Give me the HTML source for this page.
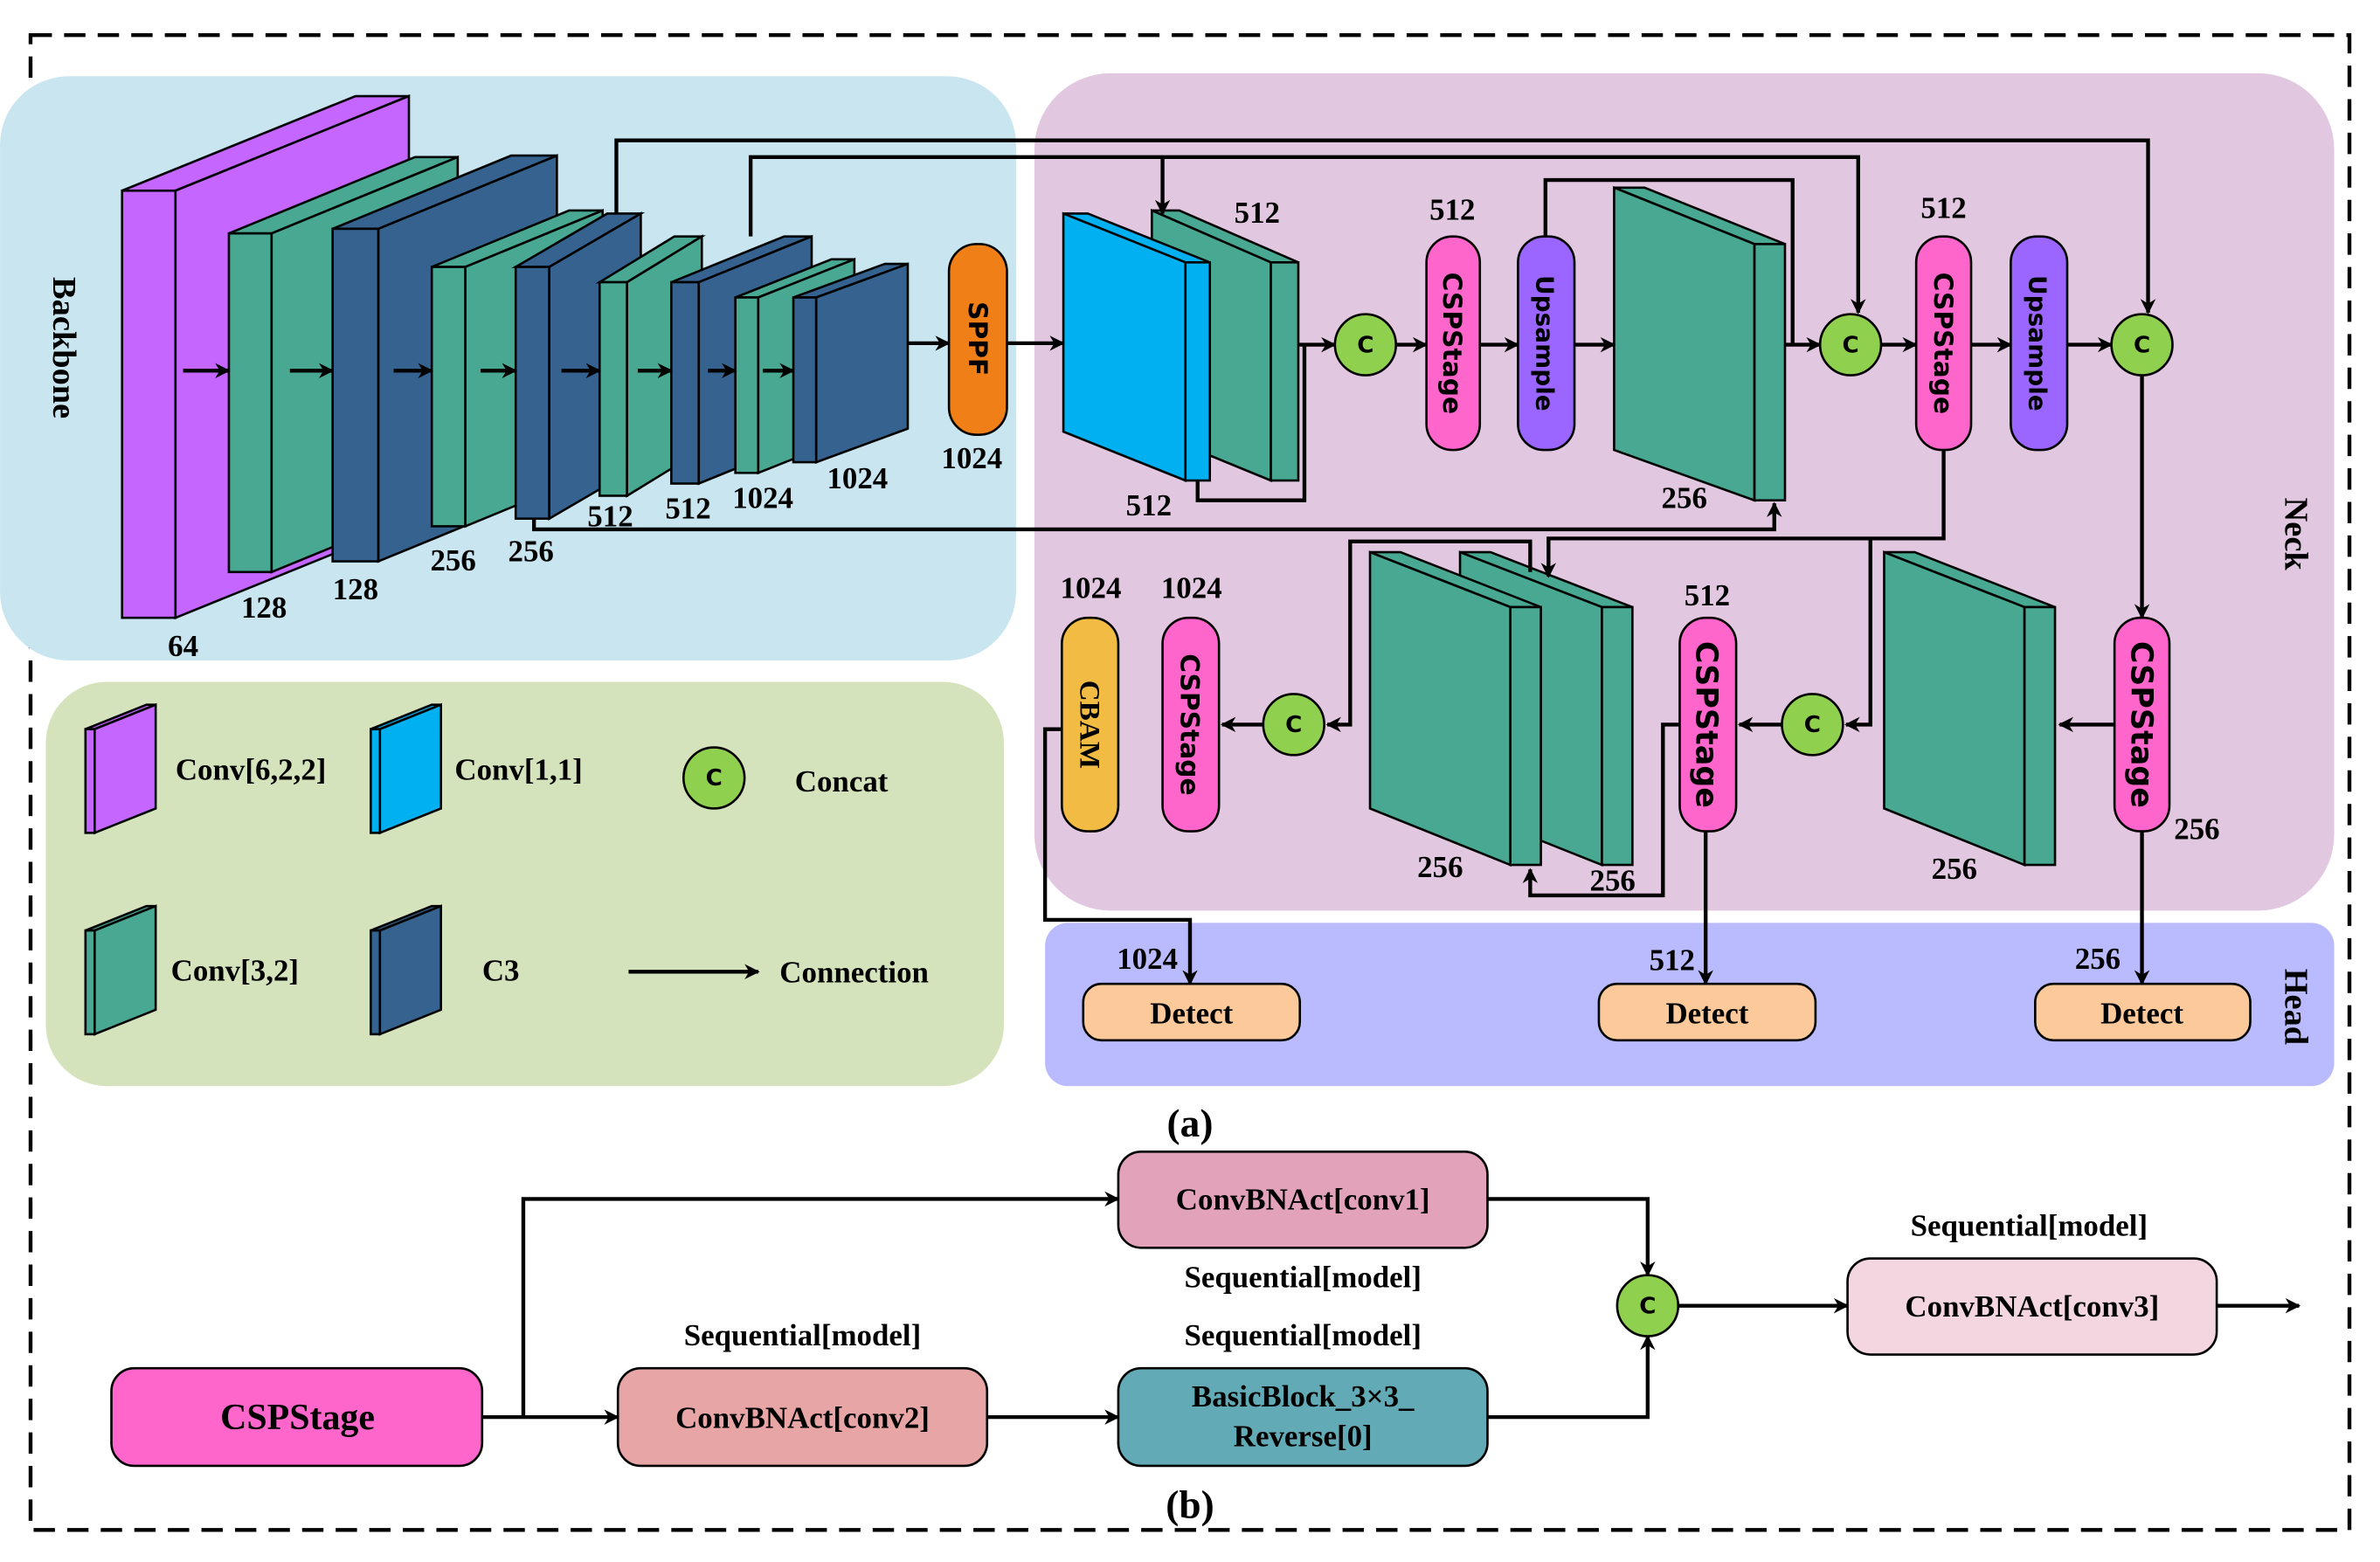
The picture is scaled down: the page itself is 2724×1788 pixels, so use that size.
<!DOCTYPE html>
<html><head><meta charset="utf-8"><style>html,body{margin:0;padding:0;background:#fff}svg{display:block}.s{font-family:"Liberation Serif",serif;font-weight:bold}</style></head>
<body>
<svg width="2724" height="1788" viewBox="0 0 1560 1024" xmlns="http://www.w3.org/2000/svg" class="s">
<defs>
<marker id="a" markerWidth="10" markerHeight="10" refX="9" refY="5" orient="auto" markerUnits="userSpaceOnUse"><path d="M0,0 L10,5 L0,10 L3,5 z" fill="#000"/></marker>
</defs>
<rect x="20" y="23" width="1520" height="980" fill="none" stroke="#000" stroke-width="2.5" stroke-dasharray="14,8"/>
<rect x="0" y="50" width="666" height="383" rx="45" fill="#c9e6f0"/>
<rect x="30" y="447" width="628" height="265" rx="40" fill="#d5e3bc"/>
<rect x="678" y="48" width="852" height="549" rx="50" fill="#e2c7e1"/>
<rect x="685" y="605" width="845" height="107" rx="15" fill="#babbff"/>

<g stroke="#000" stroke-width="1.5">
<g fill="#c466ff"><polygon points="80,125 115,125 268,63 233,63"/><rect x="80" y="125" width="35" height="280"/><polygon points="115,125 268,63 268,343 115,405"/></g>
<g fill="#48a892"><polygon points="150,153 178,153 300,103 272,103"/><rect x="150" y="153" width="28" height="222"/><polygon points="178,153 300,103 300,325 178,375"/></g>
<g fill="#35628f"><polygon points="218,150 248,150 365,102 335,102"/><rect x="218" y="150" width="30" height="218"/><polygon points="248,150 365,102 365,320 248,368"/></g>
<g fill="#48a892"><polygon points="283,175 305,175 395,138 373,138"/><rect x="283" y="175" width="22" height="170"/><polygon points="305,175 395,138 395,308 305,345"/></g>
<g fill="#35628f"><polygon points="338,175 360,175 420,140 398,140"/><rect x="338" y="175" width="22" height="165"/><polygon points="360,175 420,140 420,305 360,340"/></g>
<g fill="#48a892"><polygon points="393,185 411,185 460,155 442,155"/><rect x="393" y="185" width="18" height="140"/><polygon points="411,185 460,155 460,295 411,325"/></g>
<g fill="#35628f"><polygon points="440,185 458,185 532,155 514,155"/><rect x="440" y="185" width="18" height="132"/><polygon points="458,185 532,155 532,287 458,317"/></g>
<g fill="#48a892"><polygon points="482,195 497,195 560,170 545,170"/><rect x="482" y="195" width="15" height="115"/><polygon points="497,195 560,170 560,285 497,310"/></g>
<g fill="#35628f"><polygon points="520,195 535,195 595,173 580,173"/><rect x="520" y="195" width="15" height="108"/><polygon points="535,195 595,173 595,281 535,303"/></g>

<g fill="#48a892"><polygon points="755,138 773,138 851,172 833,172"/><polygon points="755,138 833,172 833,315 755,283"/><rect x="833" y="172" width="18" height="143"/></g>
<g fill="#00b0f0"><polygon points="697,140 713,140 793,172 777,172"/><polygon points="697,140 777,172 777,315 697,283"/><rect x="777" y="172" width="16" height="143"/></g>
<g fill="#48a892"><polygon points="1058,123 1078,123 1170,160 1150,160"/><polygon points="1058,123 1150,160 1150,328 1058,295"/><rect x="1150" y="160" width="20" height="168"/></g>
<g fill="#48a892"><polygon points="957,362 977,362 1070,398 1050,398"/><polygon points="957,362 1050,398 1050,567 957,530"/><rect x="1050" y="398" width="20" height="169"/></g>
<g fill="#48a892"><polygon points="898,362 918,362 1010,398 990,398"/><polygon points="898,362 990,398 990,567 898,530"/><rect x="990" y="398" width="20" height="169"/></g>
<g fill="#48a892"><polygon points="1235,362 1255,362 1347,398 1327,398"/><polygon points="1235,362 1327,398 1327,567 1235,530"/><rect x="1327" y="398" width="20" height="169"/></g>

<g fill="#c466ff"><polygon points="56,478 62,478 102,462 96,462"/><rect x="56" y="478" width="6" height="68"/><polygon points="62,478 102,462 102,530 62,546"/></g>
<g fill="#00b0f0"><polygon points="243,478 249,478 289,462 283,462"/><rect x="243" y="478" width="6" height="68"/><polygon points="249,478 289,462 289,530 249,546"/></g>
<g fill="#48a892"><polygon points="56,610 62,610 102,594 96,594"/><rect x="56" y="610" width="6" height="68"/><polygon points="62,610 102,594 102,662 62,678"/></g>
<g fill="#35628f"><polygon points="243,610 249,610 289,594 283,594"/><rect x="243" y="610" width="6" height="68"/><polygon points="249,610 289,594 289,662 249,678"/></g>
</g>

<g fill="none" stroke="#000" stroke-width="2.5">
<line x1="120" y1="243" x2="150" y2="243" marker-end="url(#a)"/>
<line x1="190" y1="243" x2="218" y2="243" marker-end="url(#a)"/>
<line x1="258" y1="243" x2="283" y2="243" marker-end="url(#a)"/>
<line x1="315" y1="243" x2="338" y2="243" marker-end="url(#a)"/>
<line x1="368" y1="243" x2="393" y2="243" marker-end="url(#a)"/>
<line x1="418" y1="243" x2="440" y2="243" marker-end="url(#a)"/>
<line x1="464" y1="243" x2="482" y2="243" marker-end="url(#a)"/>
<line x1="500" y1="243" x2="520" y2="243" marker-end="url(#a)"/>
<line x1="595" y1="225" x2="622" y2="225" marker-end="url(#a)"/>
<line x1="660" y1="225" x2="697" y2="225" marker-end="url(#a)"/>
<polyline points="404,140 404,92 1408,92 1408,205" marker-end="url(#a)"/>
<polyline points="492,155 492,103 1218,103 1218,205" marker-end="url(#a)"/>
<line x1="762" y1="103" x2="762" y2="140" marker-end="url(#a)"/>
<polyline points="1013,155 1013,118 1175,118 1175,226"/>
<line x1="1170" y1="226" x2="1193" y2="226" marker-end="url(#a)"/>
<line x1="851" y1="226" x2="875" y2="226" marker-end="url(#a)"/>
<polyline points="785,315 785,328 855,328 855,226"/>
<line x1="915" y1="226" x2="935" y2="226" marker-end="url(#a)"/>
<line x1="970" y1="226" x2="995" y2="226" marker-end="url(#a)"/>
<line x1="1032" y1="226" x2="1058" y2="226" marker-end="url(#a)"/>
<line x1="1233" y1="226" x2="1256" y2="226" marker-end="url(#a)"/>
<line x1="1292" y1="226" x2="1318" y2="226" marker-end="url(#a)"/>
<line x1="1355" y1="226" x2="1384" y2="226" marker-end="url(#a)"/>
<line x1="1404" y1="246" x2="1404" y2="405" marker-end="url(#a)"/>
<polyline points="350,340 350,347 1163,347 1163,330" marker-end="url(#a)"/>
<polyline points="1274,295 1274,353 1015,353 1015,378" marker-end="url(#a)"/>
<polyline points="1226,353 1226,475 1210,475" marker-end="url(#a)"/>
<polyline points="1003,375 1003,355 885,355 885,475 870,475" marker-end="url(#a)"/>
<line x1="1386" y1="475" x2="1350" y2="475" marker-end="url(#a)"/>
<line x1="1168" y1="475" x2="1140" y2="475" marker-end="url(#a)"/>
<polyline points="1101,475 1090,475 1090,587 1003,587 1003,570" marker-end="url(#a)"/>
<line x1="828" y1="475" x2="801" y2="475" marker-end="url(#a)"/>
<line x1="1118" y1="545" x2="1118" y2="645" marker-end="url(#a)"/>
<line x1="1404" y1="545" x2="1404" y2="645" marker-end="url(#a)"/>
<polyline points="696,478 685,478 685,603 780,603 780,645" marker-end="url(#a)"/>
<line x1="412" y1="637" x2="497" y2="637" marker-end="url(#a)"/>
<line x1="316" y1="929" x2="405" y2="929" marker-end="url(#a)"/>
<line x1="647" y1="929" x2="733" y2="929" marker-end="url(#a)"/>
<polyline points="343,929 343,786 733,786" marker-end="url(#a)"/>
<polyline points="975,786 1080,786 1080,836" marker-end="url(#a)"/>
<polyline points="975,929 1080,929 1080,876" marker-end="url(#a)"/>
<line x1="1100" y1="856" x2="1211" y2="856" marker-end="url(#a)"/>
<line x1="1453" y1="856" x2="1507" y2="856" marker-end="url(#a)"/>
</g>

<g stroke="#000" stroke-width="1.5">
<rect x="622" y="160" width="38" height="125" rx="18" fill="#f07f18"/>
<rect x="935" y="155" width="35" height="140" rx="17" fill="#ff66cc"/>
<rect x="995" y="155" width="37" height="140" rx="17" fill="#9b66ff"/>
<rect x="1256" y="155" width="36" height="140" rx="17" fill="#ff66cc"/>
<rect x="1318" y="155" width="37" height="140" rx="17" fill="#9b66ff"/>
<rect x="1386" y="405" width="36" height="140" rx="17" fill="#ff66cc"/>
<rect x="1101" y="405" width="37" height="140" rx="17" fill="#ff66cc"/>
<rect x="762" y="405" width="37" height="140" rx="17" fill="#ff66cc"/>
<rect x="696" y="405" width="37" height="140" rx="17" fill="#f2bb44"/>
<g fill="#8fd14f"><circle cx="895" cy="226" r="20"/><circle cx="1213" cy="226" r="20"/><circle cx="1404" cy="226" r="20"/><circle cx="1188" cy="475" r="20"/><circle cx="848" cy="475" r="20"/><circle cx="468" cy="510" r="20"/><circle cx="1080" cy="856" r="20"/></g>
<g fill="#fbc99a"><rect x="710" y="645" width="142" height="37" rx="12"/><rect x="1048" y="645" width="142" height="37" rx="12"/><rect x="1334" y="645" width="141" height="37" rx="12"/></g>
<rect x="73" y="897" width="243" height="64" rx="15" fill="#ff66cc"/>
<rect x="405" y="897" width="242" height="64" rx="15" fill="#e8a5a5"/>
<rect x="733" y="897" width="242" height="64" rx="15" fill="#62aab5"/>
<rect x="733" y="755" width="242" height="63" rx="15" fill="#e2a3ba"/>
<rect x="1211" y="825" width="242" height="63" rx="15" fill="#f3d6df"/>
</g>

<g style="font-family:'DejaVu Sans',sans-serif" font-size="17" text-anchor="middle" fill="#000">
<text transform="translate(641,222) rotate(90)" dy="6">SPPF</text>
<text transform="translate(952,225) rotate(90)" dy="6">CSPStage</text>
<text transform="translate(1013,225) rotate(90)" dy="6" font-size="16">Upsample</text>
<text transform="translate(1274,225) rotate(90)" dy="6">CSPStage</text>
<text transform="translate(1336,225) rotate(90)" dy="6" font-size="16">Upsample</text>
<text transform="translate(1404,475) rotate(90)" dy="7" font-size="20">CSPStage</text>
<text transform="translate(1119,475) rotate(90)" dy="7" font-size="20">CSPStage</text>
<text transform="translate(780,475) rotate(90)" dy="6">CSPStage</text>
<text transform="translate(714,475) rotate(90)" dy="6" style="font-family:'Liberation Serif',serif" font-size="19">CBAM</text>
<g font-size="15"><text x="895" y="231">C</text><text x="1213" y="231">C</text><text x="1404" y="231">C</text><text x="1188" y="480">C</text><text x="848" y="480">C</text><text x="468" y="515">C</text><text x="1080" y="861">C</text></g>
</g>
<g font-size="20" fill="#000" style="font-family:'Liberation Serif',serif">
<text transform="translate(42,228) rotate(90)" text-anchor="middle" dy="7" font-size="22">Backbone</text>
<text transform="translate(1505,350) rotate(90)" text-anchor="middle" dy="7" font-size="22">Neck</text>
<text transform="translate(1505,660) rotate(90)" text-anchor="middle" dy="7" font-size="22">Head</text>
<text x="120" y="430" text-anchor="middle">64</text>
<text x="173" y="405" text-anchor="middle">128</text>
<text x="233" y="393" text-anchor="middle">128</text>
<text x="297" y="374" text-anchor="middle">256</text>
<text x="348" y="368" text-anchor="middle">256</text>
<text x="400" y="345" text-anchor="middle">512</text>
<text x="451" y="340" text-anchor="middle">512</text>
<text x="500" y="333" text-anchor="middle">1024</text>
<text x="562" y="320" text-anchor="middle">1024</text>
<text x="637" y="307" text-anchor="middle">1024</text>
<text x="824" y="146" text-anchor="middle">512</text>
<text x="753" y="338" text-anchor="middle">512</text>
<text x="952" y="144" text-anchor="middle">512</text>
<text x="1104" y="333" text-anchor="middle">256</text>
<text x="1274" y="143" text-anchor="middle">512</text>
<text x="715" y="392" text-anchor="middle">1024</text>
<text x="781" y="392" text-anchor="middle">1024</text>
<text x="1119" y="397" text-anchor="middle">512</text>
<text x="944" y="575" text-anchor="middle">256</text>
<text x="1057" y="584" text-anchor="middle">256</text>
<text x="1281" y="576" text-anchor="middle">256</text>
<text x="1440" y="550" text-anchor="middle">256</text>
<text x="752" y="635" text-anchor="middle">1024</text>
<text x="1096" y="636" text-anchor="middle">512</text>
<text x="1375" y="635" text-anchor="middle">256</text>
<text x="781" y="671" text-anchor="middle">Detect</text>
<text x="1119" y="671" text-anchor="middle">Detect</text>
<text x="1404" y="671" text-anchor="middle">Detect</text>
<text x="115" y="511">Conv[6,2,2]</text>
<text x="298" y="511">Conv[1,1]</text>
<text x="521" y="519">Concat</text>
<text x="112" y="643">Conv[3,2]</text>
<text x="316" y="643">C3</text>
<text x="511" y="644">Connection</text>
<text x="780" y="745" text-anchor="middle" font-size="26">(a)</text>
<text x="780" y="995" text-anchor="middle" font-size="26">(b)</text>
<text x="195" y="937" text-anchor="middle" font-size="24">CSPStage</text>
<text x="526" y="936" text-anchor="middle">ConvBNAct[conv2]</text>
<text x="854" y="922" text-anchor="middle">BasicBlock_3×3_</text>
<text x="854" y="948" text-anchor="middle">Reverse[0]</text>
<text x="854" y="793" text-anchor="middle">ConvBNAct[conv1]</text>
<text x="1332" y="863" text-anchor="middle">ConvBNAct[conv3]</text>
<text x="526" y="882" text-anchor="middle">Sequential[model]</text>
<text x="854" y="844" text-anchor="middle">Sequential[model]</text>
<text x="854" y="882" text-anchor="middle">Sequential[model]</text>
<text x="1330" y="810" text-anchor="middle">Sequential[model]</text>
</g>
</svg>
</body></html>
